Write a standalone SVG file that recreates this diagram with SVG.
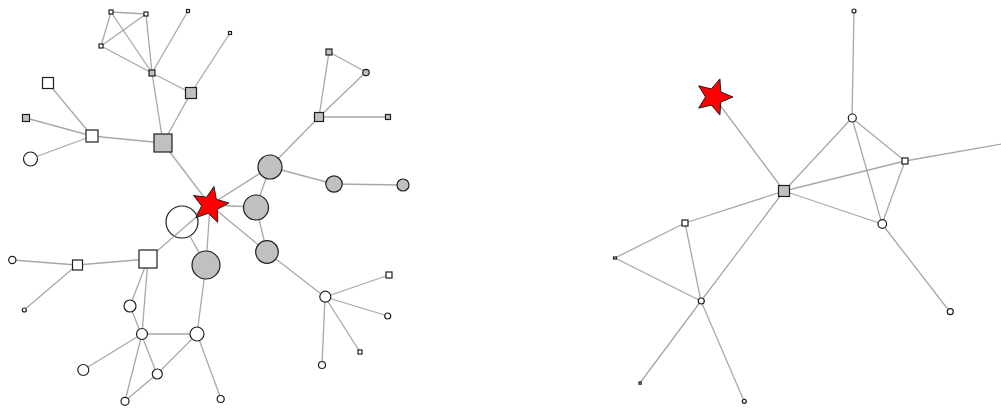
<svg xmlns="http://www.w3.org/2000/svg" width="1001" height="408" viewBox="0 0 1001 408">
<style>
.e{stroke:#a8a8a8;stroke-width:1.3;fill:none}
.n{stroke:#1e1e1e;stroke-width:1.2}
.w{fill:#ffffff}
.g{fill:#c0c0c0}
.s{fill:#ff0000;stroke:#1e1e1e;stroke-width:1}
</style>
<rect width="1001" height="408" fill="#ffffff"/>
<g id="node-U"><circle class="n w" cx="182" cy="222" r="16"/></g>
<g id="connectors">
<line class="e" x1="111" y1="12" x2="146" y2="14"/>
<line class="e" x1="111" y1="12" x2="101" y2="46"/>
<line class="e" x1="146" y1="14" x2="101" y2="46"/>
<line class="e" x1="111" y1="12" x2="152" y2="73"/>
<line class="e" x1="146" y1="14" x2="152" y2="73"/>
<line class="e" x1="101" y1="46" x2="152" y2="73"/>
<line class="e" x1="188" y1="11" x2="152" y2="73"/>
<line class="e" x1="230" y1="33" x2="191" y2="93"/>
<line class="e" x1="152" y1="73" x2="191" y2="93"/>
<line class="e" x1="152" y1="73" x2="163" y2="143"/>
<line class="e" x1="191" y1="93" x2="163" y2="143"/>
<line class="e" x1="163" y1="143" x2="92" y2="136"/>
<line class="e" x1="48" y1="83" x2="92" y2="136"/>
<line class="e" x1="26" y1="118" x2="92" y2="136"/>
<line class="e" x1="30" y1="159" x2="92" y2="136"/>
<line class="e" x1="163" y1="143" x2="210" y2="205"/>
<line class="e" x1="329" y1="52" x2="366" y2="72"/>
<line class="e" x1="329" y1="52" x2="319" y2="117"/>
<line class="e" x1="366" y1="72" x2="319" y2="117"/>
<line class="e" x1="319" y1="117" x2="388" y2="117"/>
<line class="e" x1="319" y1="117" x2="270" y2="167"/>
<line class="e" x1="270" y1="167" x2="334" y2="184"/>
<line class="e" x1="334" y1="184" x2="403" y2="185"/>
<line class="e" x1="270" y1="167" x2="210" y2="205"/>
<line class="e" x1="270" y1="167" x2="256" y2="207"/>
<line class="e" x1="210" y1="205" x2="256" y2="207"/>
<line class="e" x1="256" y1="207" x2="267" y2="252"/>
<line class="e" x1="210" y1="205" x2="267" y2="252"/>
<line class="e" x1="267" y1="252" x2="325" y2="297"/>
<line class="e" x1="325" y1="297" x2="389" y2="275"/>
<line class="e" x1="325" y1="297" x2="388" y2="316"/>
<line class="e" x1="325" y1="297" x2="360" y2="352"/>
<line class="e" x1="325" y1="297" x2="322" y2="365"/>
<line class="e" x1="148" y1="259" x2="77" y2="265"/>
<line class="e" x1="77" y1="265" x2="12" y2="260"/>
<line class="e" x1="77" y1="265" x2="24" y2="310"/>
<line class="e" x1="148" y1="259" x2="210" y2="205"/>
<line class="e" x1="189.8" y1="236" x2="206" y2="265"/>
<line class="e" x1="195.7" y1="213.7" x2="210" y2="205"/>
<line class="e" x1="210" y1="205" x2="206" y2="265"/>
<line class="e" x1="148" y1="259" x2="130" y2="306"/>
<line class="e" x1="148" y1="259" x2="142" y2="334"/>
<line class="e" x1="130" y1="306" x2="157" y2="374"/>
<line class="e" x1="142" y1="334" x2="197" y2="334"/>
<line class="e" x1="142" y1="334" x2="83" y2="370"/>
<line class="e" x1="142" y1="334" x2="125" y2="401"/>
<line class="e" x1="157" y1="374" x2="197" y2="334"/>
<line class="e" x1="125" y1="401" x2="157" y2="374"/>
<line class="e" x1="197" y1="334" x2="221" y2="399"/>
<line class="e" x1="197" y1="334" x2="206" y2="265"/>
<line class="e" x1="714" y1="97" x2="784" y2="191"/>
<line class="e" x1="784" y1="191" x2="852" y2="118"/>
<line class="e" x1="784" y1="191" x2="905" y2="161"/>
<line class="e" x1="905" y1="161" x2="1010" y2="142.5"/>
<line class="e" x1="854" y1="11" x2="852" y2="118"/>
<line class="e" x1="852" y1="118" x2="905" y2="161"/>
<line class="e" x1="852" y1="118" x2="882" y2="224"/>
<line class="e" x1="905" y1="161" x2="882" y2="224"/>
<line class="e" x1="784" y1="191" x2="882" y2="224"/>
<line class="e" x1="784" y1="191" x2="701" y2="301"/>
<line class="e" x1="784" y1="191" x2="685" y2="223"/>
<line class="e" x1="685" y1="223" x2="701" y2="301"/>
<line class="e" x1="685" y1="223" x2="615" y2="258"/>
<line class="e" x1="615" y1="258" x2="701" y2="301"/>
<line class="e" x1="701" y1="301" x2="640" y2="383"/>
<line class="e" x1="701" y1="301" x2="744" y2="401"/>
<line class="e" x1="882" y1="224" x2="950" y2="312"/>
</g>
<g id="node-A"><rect class="n w" x="109" y="10" width="4" height="4"/></g>
<g id="node-B"><rect class="n w" x="144" y="12" width="4" height="4"/></g>
<g id="node-C"><rect class="n w" x="99" y="44" width="4" height="4"/></g>
<g id="node-D"><rect class="n w" x="186.5" y="9.5" width="3" height="3"/></g>
<g id="node-E"><rect class="n w" x="228.5" y="31.5" width="3" height="3"/></g>
<g id="node-F"><rect class="n g" x="149" y="70" width="6" height="6"/></g>
<g id="node-G"><rect class="n g" x="185.5" y="87.5" width="11" height="11"/></g>
<g id="node-H"><rect class="n g" x="154" y="134" width="18" height="18"/></g>
<g id="node-I"><rect class="n w" x="42.5" y="77.5" width="11" height="11"/></g>
<g id="node-J"><rect class="n g" x="22.5" y="114.5" width="7" height="7"/></g>
<g id="node-K"><rect class="n w" x="86" y="130" width="12" height="12"/></g>
<g id="node-L"><circle class="n w" cx="30.5" cy="159" r="7"/></g>
<g id="node-M"><rect class="n g" x="326" y="49" width="6" height="6"/></g>
<g id="node-N"><circle class="n g" cx="366" cy="72.5" r="3.2"/></g>
<g id="node-O"><rect class="n g" x="314.5" y="112.5" width="9" height="9"/></g>
<g id="node-P"><rect class="n g" x="385.5" y="114.5" width="5" height="5"/></g>
<g id="node-Q"><circle class="n g" cx="270" cy="167" r="12"/></g>
<g id="node-R"><circle class="n g" cx="334" cy="184" r="8.2"/></g>
<g id="node-S"><circle class="n g" cx="403" cy="185" r="6"/></g>
<g id="node-T"><circle class="n g" cx="256" cy="207.5" r="12.5"/></g>
<g id="node-AH"><circle class="n g" cx="267" cy="252" r="11.3"/></g>
<g id="node-V"><circle class="n g" cx="206" cy="265" r="14"/></g>
<g id="node-W"><rect class="n w" x="139" y="250" width="18" height="18"/></g>
<g id="node-X"><rect class="n w" x="72.5" y="260" width="10" height="10"/></g>
<g id="node-Y"><circle class="n w" cx="12.3" cy="260" r="3.6"/></g>
<g id="node-Z"><circle class="n w" cx="24.3" cy="310" r="2"/></g>
<g id="node-AA"><circle class="n w" cx="130" cy="306" r="6"/></g>
<g id="node-AB"><circle class="n w" cx="142" cy="334" r="5.5"/></g>
<g id="node-AC"><circle class="n w" cx="197" cy="334" r="7"/></g>
<g id="node-AD"><circle class="n w" cx="83.3" cy="370" r="5.5"/></g>
<g id="node-AE"><circle class="n w" cx="157.3" cy="374" r="5"/></g>
<g id="node-AF"><circle class="n w" cx="125" cy="401.3" r="4"/></g>
<g id="node-AG"><circle class="n w" cx="220.7" cy="399" r="3.5"/></g>
<g id="node-AI"><circle class="n w" cx="325.3" cy="296.7" r="5.5"/></g>
<g id="node-AJ"><rect class="n w" x="386" y="272" width="6" height="6"/></g>
<g id="node-AK"><circle class="n w" cx="387.7" cy="316" r="3"/></g>
<g id="node-AL"><rect class="n w" x="358" y="350" width="4" height="4"/></g>
<g id="node-AM"><circle class="n w" cx="322" cy="365" r="3.5"/></g>
<g id="node-star1"><polygon class="s" points="213.95,186.42 216.32,199.31 228.9,203.01 217.36,209.25 217.73,222.36 208.23,213.31 195.88,217.71 201.55,205.89 193.55,195.5 206.54,197.24"/></g>
<g id="node-star2"><polygon class="s" points="719.87,78.93 720.88,92 733,97 720.88,102 719.87,115.07 711.37,105.08 698.63,108.17 705.5,97 698.63,85.83 711.37,88.92"/></g>
<g id="node-R1"><rect class="n g" x="778.5" y="185.5" width="11" height="11"/></g>
<g id="node-R2"><circle class="n w" cx="854" cy="11" r="2"/></g>
<g id="node-R3"><circle class="n w" cx="852.3" cy="118" r="4"/></g>
<g id="node-R4"><rect class="n w" x="902" y="158" width="6" height="6"/></g>
<g id="node-R5"><rect class="n w" x="682" y="220" width="6" height="6"/></g>
<g id="node-R6"><rect class="n w" x="613.5" y="257" width="3" height="2"/></g>
<g id="node-R7"><circle class="n w" cx="701.3" cy="301" r="3"/></g>
<g id="node-R8"><rect class="n w" x="639" y="382" width="2.2" height="2.2"/></g>
<g id="node-R9"><circle class="n w" cx="744.3" cy="401.3" r="2"/></g>
<g id="node-R10"><circle class="n w" cx="882.3" cy="224" r="4.3"/></g>
<g id="node-R11"><circle class="n w" cx="950.3" cy="311.7" r="3"/></g>
</svg>
